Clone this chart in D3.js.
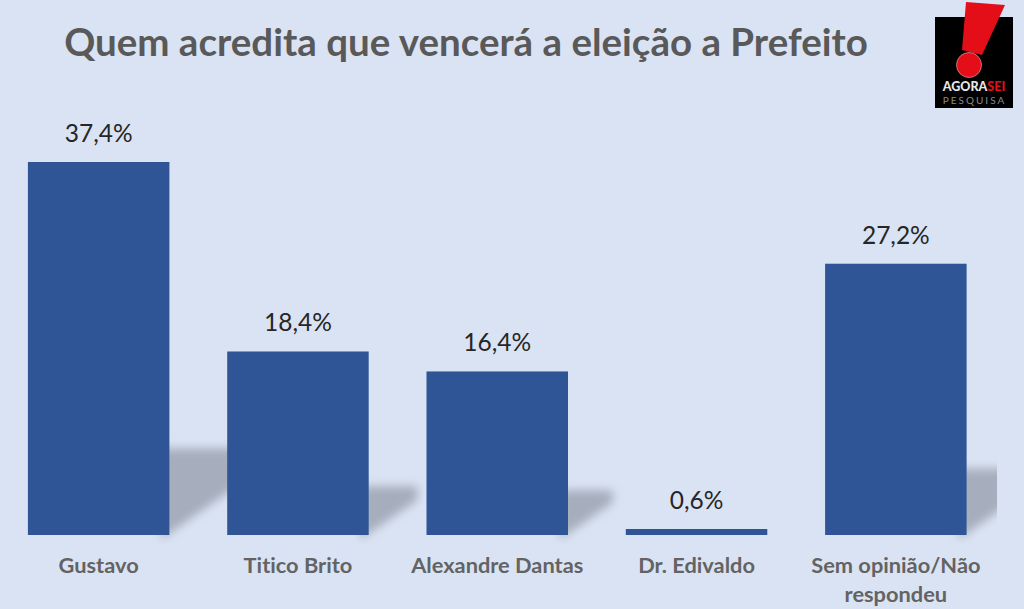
<!DOCTYPE html>
<html>
<head>
<meta charset="utf-8">
<script src="https://cdn.jsdelivr.net/npm/d3@7"></script>
<style>
    html, body { margin: 0; padding: 0; background: #DAE3F3; overflow: hidden; }
    text { font-family: Lato, "Open Sans", sans-serif; font-variant-ligatures: none; }
</style>
</head>
<body>
<svg id="chart" width="1024" height="609"></svg>
<script>
const categories = ["Gustavo", "Titico Brito", "Alexandre Dantas", "Dr. Edivaldo", "Sem opinião/Não respondeu"];
const values = [37.4, 18.4, 16.4, 0.6, 27.2];
const valueLabels = ["37,4%", "18,4%", "16,4%", "0,6%", "27,2%"];
const titleText = "Quem acredita que vencerá a eleição a Prefeito";

const svg = d3.select("#chart");
const baseline = 535;

const x = d3.scaleBand().domain(categories).range([-1, 995.5]).paddingInner(0.29).paddingOuter(0.145);
const y = d3.scaleLinear().domain([0, 37.4]).range([baseline, 162]);

svg.append("rect").attr("width", 1024).attr("height", 609).attr("fill", "#DAE3F3");

const defs = svg.append("defs");
defs.append("filter").attr("id", "soft")
    .attr("x", "-30%").attr("y", "-30%").attr("width", "160%").attr("height", "160%")
    .append("feGaussianBlur").attr("stdDeviation", 5);
defs.append("clipPath").attr("id", "plotClip")
    .append("rect").attr("x", 0).attr("y", 100).attr("width", 997).attr("height", 445);

// shadows behind the bars, height follows the value
const shadows = svg.append("g").attr("clip-path", "url(#plotClip)");
categories.forEach((c, i) => {
    if (values[i] < 1) return;
    const right = x(c) + x.bandwidth();
    const h = (baseline - y(values[i])) * 0.2 + 12;
    const top = baseline - h;
    shadows.append("path")
        .attr("d", d3.line()([
            [right - 8, baseline + 4],
            [right - 8, top],
            [right + h, top],
            [right + h, baseline - h * 0.72]
        ]) + "Z")
        .attr("fill", "#A6ADBC")
        .attr("filter", "url(#soft)");
});

svg.selectAll("rect.bar")
    .data(categories)
    .join("rect")
    .attr("class", "bar")
    .attr("x", d => x(d))
    .attr("y", (d, i) => y(values[i]))
    .attr("width", x.bandwidth())
    .attr("height", (d, i) => baseline - y(values[i]))
    .attr("fill", "#2F5597");

svg.selectAll("text.value")
    .data(categories)
    .join("text")
    .attr("class", "value")
    .attr("x", d => x(d) + x.bandwidth() / 2)
    .attr("y", (d, i) => y(values[i]) - 20)
    .attr("text-anchor", "middle")
    .attr("font-size", 24.5)
    .attr("fill", "#262626")
    .text((d, i) => valueLabels[i]);

// category axis, long labels wrap on two lines
const axis = svg.append("g")
    .attr("transform", "translate(0," + baseline + ")")
    .call(d3.axisBottom(x).tickSize(0).tickPadding(0));
axis.select(".domain").remove();
axis.selectAll("text").each(function(d) {
    const t = d3.select(this);
    const lines = d.length > 20 ? ["Sem opinião/Não", "respondeu"] : [d];
    t.text(null)
        .attr("y", 0)
        .attr("dy", null)
        .attr("font-size", 21.8)
        .attr("font-weight", 700)
        .attr("fill", "#636363");
    lines.forEach((l, i) => {
        t.append("tspan").attr("x", 0).attr("y", 37.5 + i * 29).text(l);
    });
});

svg.append("text")
    .attr("x", 466)
    .attr("y", 56)
    .attr("text-anchor", "middle")
    .attr("font-size", 38.5)
    .attr("font-weight", 700)
    .attr("fill", "#595959")
    .text(titleText);

// logo
const logo = svg.append("g");
logo.append("rect").attr("x", 935).attr("y", 17).attr("width", 78).attr("height", 91).attr("fill", "#000");
logo.append("path").attr("d", "M966,2L1005,5L982,55L962,50Z").attr("fill", "#E30E18");
logo.append("circle").attr("cx", 969).attr("cy", 65).attr("r", 12.5).attr("fill", "#E30E18").attr("stroke", "#F2B8BA").attr("stroke-width", 0.6);
const brand = logo.append("text").attr("x", 974).attr("y", 91).attr("text-anchor", "middle")
    .attr("font-size", 12.5).attr("font-weight", 900);
brand.append("tspan").attr("fill", "#E8E8E8").text("AGORA");
brand.append("tspan").attr("fill", "#E30E18").text("SEI");
logo.append("text").attr("x", 974.5).attr("y", 104).attr("text-anchor", "middle")
    .attr("font-size", 10).attr("letter-spacing", 2).attr("fill", "#8A8A8A").text("PESQUISA");
</script>
</body>
</html>
